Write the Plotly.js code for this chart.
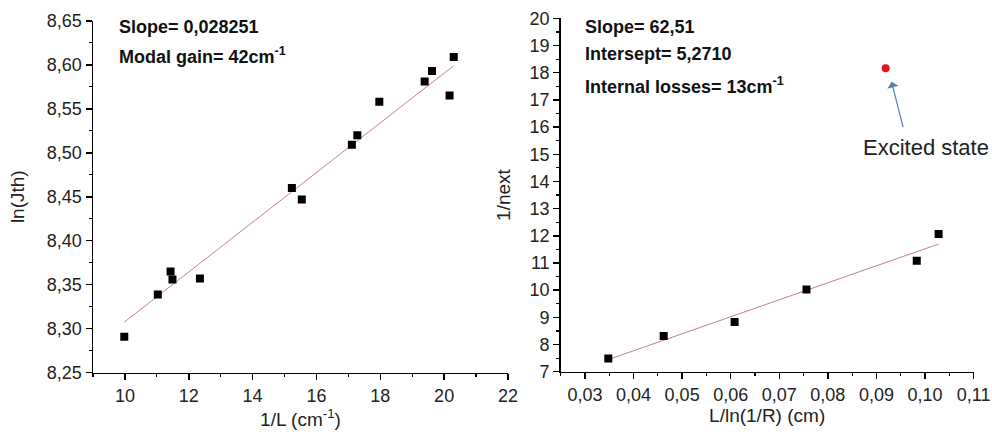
<!DOCTYPE html>
<html>
<head>
<meta charset="utf-8">
<script src="https://cdn.plot.ly/plotly-3.0.1.min.js"></script>
<style>html,body{margin:0;padding:0;background:#fff;}#chart{width:992px;height:441px;}</style>
</head>
<body>
<div id="chart"></div>
<script>
// ---- Left panel: ln(Jth) vs 1/L ----
const invL = [9.98, 11.03, 11.43, 11.49, 12.35, 15.23, 15.54, 17.11, 17.28, 17.97, 19.39, 19.62, 20.17, 20.30];
const lnJth = [8.291, 8.339, 8.365, 8.356, 8.357, 8.460, 8.447, 8.509, 8.520, 8.558, 8.581, 8.593, 8.565, 8.609];
const slopeLeft = 0.028251;
const interceptLeft = 8.0255;
const fitRangeLeft = [9.98, 20.30];

// ---- Right panel: 1/next vs L/ln(1/R) ----
const LlnR = [0.0348, 0.0462, 0.0608, 0.0756, 0.0983, 0.1028];
const invNext = [7.49, 8.31, 8.83, 10.02, 11.08, 12.07];
const excitedX = [0.0919];
const excitedY = [18.16];
const slopeRight = 62.51;
const interceptRight = 5.2710;
const fitRangeRight = [0.0348, 0.1028];

const leftAnnot = ["Slope= 0,028251", "Modal gain= 42cm<sup>-1</sup>"];
const rightAnnot = ["Slope= 62,51", "Intersept= 5,2710", "Internal losses= 13cm<sup>-1</sup>"];

const FONT = "Liberation Sans, Arial, sans-serif";
const fitColor = "#c47f86";

const traces = [
  {x: fitRangeLeft, y: fitRangeLeft.map(v => interceptLeft + slopeLeft * v), xaxis: 'x', yaxis: 'y',
   mode: 'lines', line: {color: fitColor, width: 1}, hoverinfo: 'skip'},
  {x: invL, y: lnJth, xaxis: 'x', yaxis: 'y', mode: 'markers',
   marker: {symbol: 'square', size: 8, color: '#000'}},
  {x: fitRangeRight, y: fitRangeRight.map(v => interceptRight + slopeRight * v), xaxis: 'x2', yaxis: 'y2',
   mode: 'lines', line: {color: fitColor, width: 1}, hoverinfo: 'skip'},
  {x: LlnR, y: invNext, xaxis: 'x2', yaxis: 'y2', mode: 'markers',
   marker: {symbol: 'square', size: 8, color: '#000'}},
  {x: excitedX, y: excitedY, xaxis: 'x2', yaxis: 'y2', mode: 'markers',
   marker: {symbol: 'circle', size: 8, color: '#e8141c'}}
];

const axisCommon = {
  showline: true, linecolor: '#000', linewidth: 1.5, mirror: false,
  showgrid: false, zeroline: false, ticks: 'outside', ticklen: 6, tickwidth: 1.5, tickcolor: '#000',
  ticklabeloverflow: 'allow',
  tickfont: {family: FONT, size: 18, color: '#222'},
  minor: {ticks: 'outside', ticklen: 3, tickwidth: 1.2, tickcolor: '#000', showgrid: false}
};

const annotations = [];
leftAnnot.forEach((t, i) => annotations.push({
  xref: 'paper', yref: 'paper', x: 0.118, y: [0.9395, 0.875][i], xanchor: 'left', yanchor: 'middle',
  text: '<b>' + t + '</b>', showarrow: false, font: {family: FONT, size: 18, color: '#111'}
}));
rightAnnot.forEach((t, i) => annotations.push({
  xref: 'paper', yref: 'paper', x: 0.588, y: [0.9395, 0.877, 0.806][i], xanchor: 'left', yanchor: 'middle',
  text: '<b>' + t + '</b>', showarrow: false, font: {family: FONT, size: 18, color: '#111'}
}));
annotations.push({
  xref: 'x2', yref: 'y2', x: 0.0931, y: 17.67, text: '', showarrow: true,
  ax: 12, ay: 47, axref: 'pixel', ayref: 'pixel',
  arrowhead: 1, arrowsize: 1.6, arrowwidth: 1.2, arrowcolor: '#5a7fa8'
});
annotations.push({
  xref: 'x2', yref: 'y2', x: 0.1001, y: 15.23, text: 'Excited state', showarrow: false,
  xanchor: 'center', yanchor: 'middle', font: {family: FONT, size: 22, color: '#222'}
});

const layout = {
  width: 992, height: 441,
  margin: {l: 0, r: 0, t: 0, b: 0},
  paper_bgcolor: '#fff', plot_bgcolor: '#fff',
  showlegend: false,
  separators: ', ',
  font: {family: FONT, color: '#222'},
  xaxis: Object.assign({}, axisCommon, {
    domain: [0.09375, 0.5121], range: [9, 22.001], dtick: 2, tick0: 0, minor: Object.assign({}, axisCommon.minor, {dtick: 1}),
    anchor: 'y', title: {text: '1/L (cm<sup>-1</sup>)', standoff: 0, font: {family: FONT, size: 19, color: '#222'}}
  }),
  yaxis: Object.assign({}, axisCommon, {
    domain: [0.1549, 0.953], range: [8.25, 8.6501], dtick: 0.05, tick0: 0, tickformat: '.2f',
    minor: Object.assign({}, axisCommon.minor, {dtick: 0.025}),
    anchor: 'x', title: {text: 'ln(Jth)', standoff: 17, font: {family: FONT, size: 19, color: '#222'}}
  }),
  xaxis2: Object.assign({}, axisCommon, {
    domain: [0.5652, 0.9815], range: [0.025, 0.11001], dtick: 0.01, tick0: 0, tickformat: '.2f',
    minor: Object.assign({}, axisCommon.minor, {dtick: 0.005}),
    anchor: 'y2', title: {text: 'L/ln(1/R) (cm)', standoff: 0, font: {family: FONT, size: 19, color: '#222'}}
  }),
  yaxis2: Object.assign({}, axisCommon, {
    domain: [0.1571, 0.9585], range: [7, 20.001], dtick: 1, tick0: 0,
    minor: Object.assign({}, axisCommon.minor, {dtick: 0.5}),
    anchor: 'x2', title: {text: '1/next', standoff: 14, font: {family: FONT, size: 19, color: '#222'}}
  }),
  annotations: annotations
};

Plotly.newPlot('chart', traces, layout, {staticPlot: true, displayModeBar: false});
</script>
</body>
</html>
